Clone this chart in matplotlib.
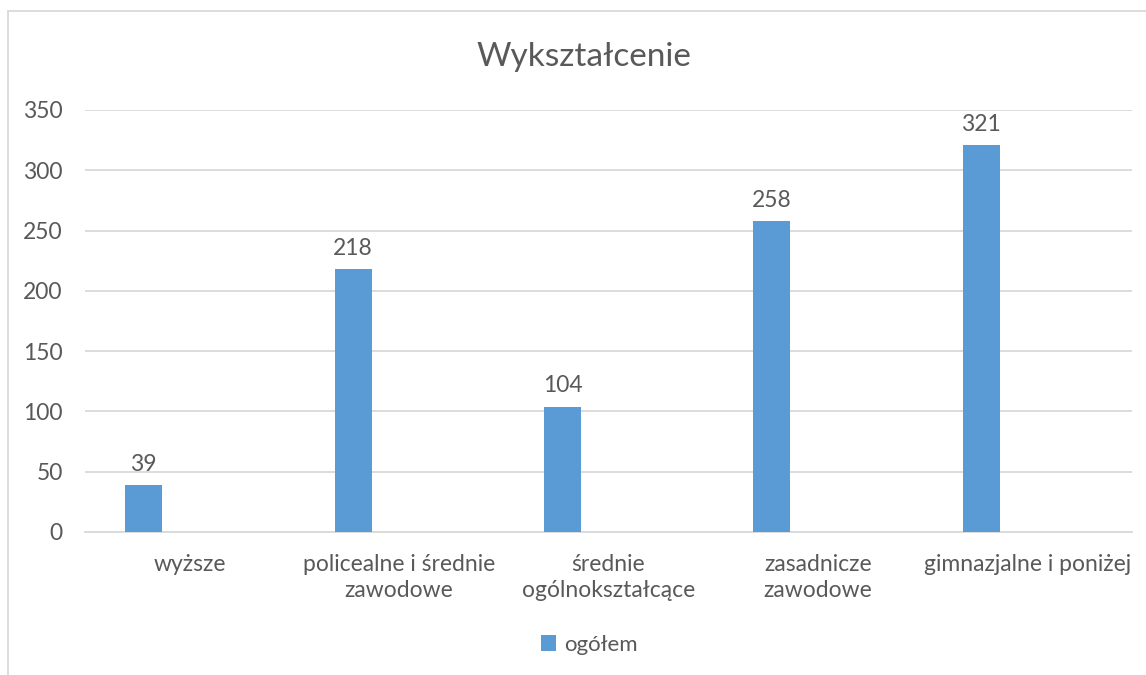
import matplotlib
matplotlib.use("Agg")
import matplotlib.pyplot as plt
from matplotlib.patches import Rectangle, Patch
import numpy as np

categories = ["wyższe", "policealne i średnie\nzawodowe", "średnie\nogólnokształcące",
              "zasadnicze\nzawodowe", "gimnazjalne i poniżej"]
values = [39, 218, 104, 258, 321]
series_name = "ogółem"
title = "Wykształcenie"
yticks = [0, 50, 100, 150, 200, 250, 300, 350]

plt.rcParams['font.family'] = ['Lato', 'DejaVu Sans']
TEXT = "#595959"
BAR = "#5B9BD5"
GRID = "#D9D9D9"
FS = 16.5

W, H = 1146, 675
fig = plt.figure(figsize=(W / 100, H / 100), dpi=100)
fig.patch.set_facecolor("white")

# outer chart border (left and top visible)
fig.add_artist(Rectangle((8 / W, -0.05), 1.2, (H - 11) / H + 0.05, transform=fig.transFigure,
                         fill=False, edgecolor=GRID, linewidth=1.3))

ax = fig.add_axes([85 / W, (H - 532) / H, (1132 - 85) / W, (532 - 110) / H])
x = np.arange(len(categories))
bw = 0.177
off = -0.22
bars = ax.bar(x + off, values, width=bw, color=BAR, zorder=3, label=series_name)
for xi, v in zip(x, values):
    ax.annotate(str(v), (xi + off, v), xytext=(0, 7.5), textcoords="offset points",
                ha="center", va="bottom", fontsize=FS, color=TEXT)

ax.set_xlim(-0.5, len(categories) - 0.5)
ax.set_ylim(0, 350)
ax.set_yticks(yticks)
ax.set_yticklabels([str(t) for t in yticks], fontsize=FS, color=TEXT)
ax.set_xticks(x)
ax.set_xticklabels(categories, fontsize=FS, color=TEXT, linespacing=1.3)
ax.tick_params(axis="both", length=0)
ax.tick_params(axis="y", pad=16)
ax.tick_params(axis="x", pad=16)
ax.grid(axis="y", color=GRID, linewidth=1.3, zorder=0)
for s in ["top", "right", "left"]:
    ax.spines[s].set_visible(False)
ax.spines["bottom"].set_color(GRID)
ax.spines["bottom"].set_linewidth(1.3)

fig.text(584 / W, 1 - 57 / H, title, ha="center", va="center", fontsize=24, color=TEXT)

leg = fig.legend(handles=[Patch(facecolor=BAR, label=series_name)], loc="center",
                 bbox_to_anchor=(589 / W, 1 - 645 / H), frameon=False, fontsize=16,
                 handlelength=0.7, handleheight=0.7, handletextpad=0.35)
for t in leg.get_texts():
    t.set_color(TEXT)

fig.savefig("out.png", dpi=100)
